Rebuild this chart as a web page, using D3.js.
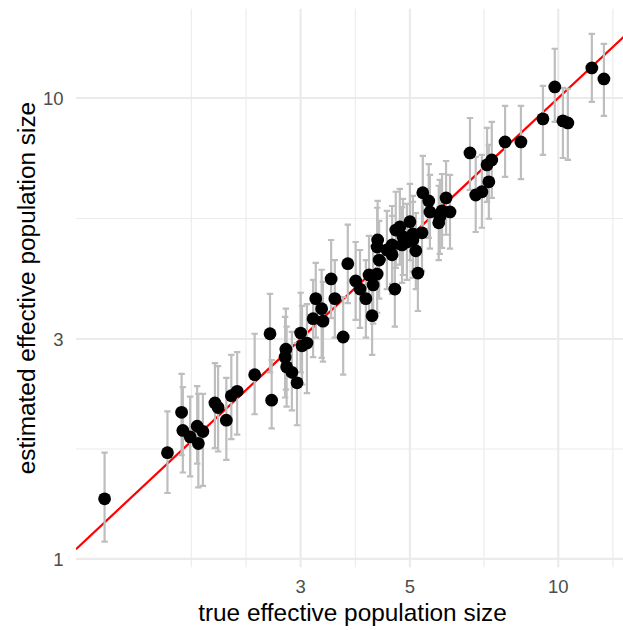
<!DOCTYPE html>
<html>
<head>
<meta charset="utf-8">
<script src="https://cdn.jsdelivr.net/npm/d3@7"></script>
<style>
  body { margin: 0; background: #fff; }
  text { font-family: "Liberation Sans", Arial, sans-serif; }
</style>
</head>
<body>
<div id="plot_div"></div>
<script>
// true Ne, estimated Ne and the interval around the estimate
const trueNe = [1.20,1.61,1.72,1.73,1.79,1.85,1.86,1.90,2.01,2.04,
  2.12,2.17,2.23,2.42,2.60,2.62,2.79,2.80,2.81,2.88,
  2.95,3.00,3.02,3.09,3.18,3.22,3.31,3.33,3.46,3.52,
  3.66,3.74,3.88,3.96,4.07,4.19,4.13,4.21,4.29,4.33,
  4.29,4.30,4.66,4.49,4.60,4.60,4.68,4.77,4.82,4.84,
  4.93,5.00,5.07,5.07,5.14,5.19,5.29,5.31,5.46,5.49,
  5.72,5.75,5.81,5.92,6.03,6.62,6.80,7.00,7.23,7.17,
  7.33,7.80,8.40,9.31,9.84,10.22,10.46,11.70,12.38]
const estNe = [1.35,1.70,2.08,1.90,1.84,1.94,1.78,1.89,2.18,2.13,
  2.00,2.26,2.31,2.51,3.08,2.21,2.74,2.85,2.61,2.54,
  2.41,3.09,2.90,2.94,3.32,3.67,3.49,3.28,4.05,3.67,
  3.03,4.37,4.01,3.85,3.67,3.37,4.13,3.93,4.15,4.45,
  4.75,4.92,3.85,4.68,4.80,4.57,5.17,5.25,4.80,5.00,
  4.87,5.39,5.07,4.92,4.66,4.17,5.10,6.23,5.98,5.66,
  5.36,5.52,5.69,6.07,5.66,7.60,6.16,6.26,6.58,7.16,
  7.34,8.03,8.03,9.01,10.57,8.92,8.83,11.62,11.00]
const lowerNe = [1.09,1.39,1.68,1.54,1.51,1.61,1.43,1.44,1.74,1.71,
  1.64,1.82,1.86,2.06,2.54,1.92,2.24,2.33,2.14,2.10,
  1.95,2.54,2.39,2.29,2.74,3.02,2.73,2.68,3.33,3.02,
  2.51,3.59,3.30,3.17,3.02,2.77,3.40,3.24,3.42,3.67,
  3.91,4.05,3.19,3.85,3.95,3.76,4.28,4.35,3.97,4.13,
  4.03,4.45,4.20,4.07,3.85,3.45,4.22,5.17,4.97,4.71,
  4.45,4.59,4.73,5.05,4.71,6.32,5.12,5.23,5.47,5.95,
  6.07,6.74,6.67,7.53,8.88,7.41,7.34,9.81,9.15]
const upperNe = [1.70,2.09,2.52,2.36,2.25,2.37,2.28,2.28,2.66,2.62,
  2.47,2.77,2.81,3.08,3.76,2.70,3.35,3.49,3.19,3.11,
  2.94,3.78,3.54,3.57,4.03,4.39,4.24,3.99,4.92,4.45,
  3.70,5.31,4.87,4.68,4.45,4.09,5.02,4.78,5.05,5.41,
  5.78,5.98,4.66,5.69,5.83,5.55,6.26,6.35,5.80,6.04,
  5.89,6.51,6.13,5.95,5.63,5.05,6.16,7.49,7.19,6.81,
  6.45,6.64,6.84,7.30,6.81,9.05,7.45,7.53,7.91,8.61,
  8.88,9.61,9.61,10.62,12.79,10.52,10.47,13.78,13.10]

const xTicks = [3, 5, 10]
const yTicks = [1, 3, 10]
const xLimits = [1.05, 13.92]
const yLimits = [0.958, 15.63]

const xTitle = "true effective population size"
const yTitle = "estimated effective population size"

const data = trueNe.map((d, i) => ({x: d, y: estNe[i], lo: lowerNe[i], hi: upperNe[i]}))

// dimensions of the page and the panel
const width = 623, height = 630
const panel = {left: 76, right: 629, top: 8.6, bottom: 567.5}

const svg = d3.select("#plot_div")
  .append("svg")
  .attr("width", width)
  .attr("height", height)

const x = d3.scaleLog().domain(xLimits).range([panel.left, panel.right])
const y = d3.scaleLog().domain(yLimits).range([panel.bottom, panel.top])

// minor breaks half way between majors in log space (like ggplot)
const minorBreaks = (ticks, lim) => {
  let b = ticks.map(Math.log10)
  const bd = b[1] - b[0]
  const l = lim.map(Math.log10)
  if (l[0] < b[0]) b = [b[0] - bd, ...b]
  if (l[1] > b[b.length - 1]) b = [...b, b[b.length - 1] + bd]
  const out = []
  for (let i = 0; i < b.length - 1; i++) out.push(b[i], (b[i] + b[i + 1]) / 2)
  out.push(b[b.length - 1])
  const majors = ticks.map(Math.log10)
  return out.filter(v => !majors.some(m => Math.abs(m - v) < 1e-9))
    .map(v => Math.pow(10, v))
    .filter(v => v > lim[0] && v < lim[1])
}

svg.append("defs").append("clipPath").attr("id", "panel-clip")
  .append("rect")
  .attr("x", panel.left).attr("y", panel.top)
  .attr("width", width - panel.left).attr("height", panel.bottom - panel.top)

const grid = svg.append("g").attr("clip-path", "url(#panel-clip)")

// minor grid
grid.selectAll(".xminor").data(minorBreaks(xTicks, xLimits)).join("line")
  .attr("x1", d => x(d)).attr("x2", d => x(d))
  .attr("y1", panel.top).attr("y2", panel.bottom)
  .attr("stroke", "#ebebeb").attr("stroke-width", 1.1)
grid.selectAll(".yminor").data(minorBreaks(yTicks, yLimits)).join("line")
  .attr("y1", d => y(d)).attr("y2", d => y(d))
  .attr("x1", panel.left).attr("x2", panel.right)
  .attr("stroke", "#ebebeb").attr("stroke-width", 1.1)

// major grid
grid.selectAll(".xmajor").data(xTicks).join("line")
  .attr("x1", d => x(d)).attr("x2", d => x(d))
  .attr("y1", panel.top).attr("y2", panel.bottom)
  .attr("stroke", "#ebebeb").attr("stroke-width", 2.2)
grid.selectAll(".ymajor").data(yTicks).join("line")
  .attr("y1", d => y(d)).attr("y2", d => y(d))
  .attr("x1", panel.left).attr("x2", panel.right)
  .attr("stroke", "#ebebeb").attr("stroke-width", 2.2)

const plot = svg.append("g").attr("clip-path", "url(#panel-clip)")

// 1:1 line
plot.append("path")
  .datum(xLimits)
  .attr("fill", "none")
  .attr("stroke", "#ff0000")
  .attr("stroke-width", 2.2)
  .attr("d", d3.line().x(d => x(d)).y(d => y(d)))

// error bars
const bars = plot.append("g")
  .attr("stroke", "#bebebe")
  .attr("stroke-width", 2.2)
  .attr("fill", "none")
bars.selectAll("path").data(data).join("path")
  .attr("d", d => {
    const cx = x(d.x), t = y(d.hi), b = y(d.lo), w = 3.2
    return `M${cx - w},${t}H${cx + w}M${cx},${t}V${b}M${cx - w},${b}H${cx + w}`
  })

// points
plot.selectAll("circle").data(data).join("circle")
  .attr("cx", d => x(d.x))
  .attr("cy", d => y(d.y))
  .attr("r", 6.4)
  .attr("fill", "black")

// axis labels
svg.selectAll(".xlab").data(xTicks).join("text")
  .attr("x", d => x(d))
  .attr("y", 593)
  .attr("text-anchor", "middle")
  .attr("font-size", 18.5)
  .attr("fill", "#4d4d4d")
  .text(d => d)
svg.selectAll(".ylab").data(yTicks).join("text")
  .attr("x", 63.5)
  .attr("y", d => y(d))
  .attr("dy", "0.36em")
  .attr("text-anchor", "end")
  .attr("font-size", 18.5)
  .attr("fill", "#4d4d4d")
  .text(d => d)

// titles
svg.append("text")
  .attr("x", (panel.left + panel.right) / 2)
  .attr("y", 621)
  .attr("text-anchor", "middle")
  .attr("font-size", 24.4)
  .attr("fill", "black")
  .text(xTitle)
svg.append("text")
  .attr("transform", `translate(35, ${(panel.top + panel.bottom) / 2}) rotate(-90)`)
  .attr("text-anchor", "middle")
  .attr("font-size", 24.4)
  .attr("fill", "black")
  .text(yTitle)
</script>
</body>
</html>
